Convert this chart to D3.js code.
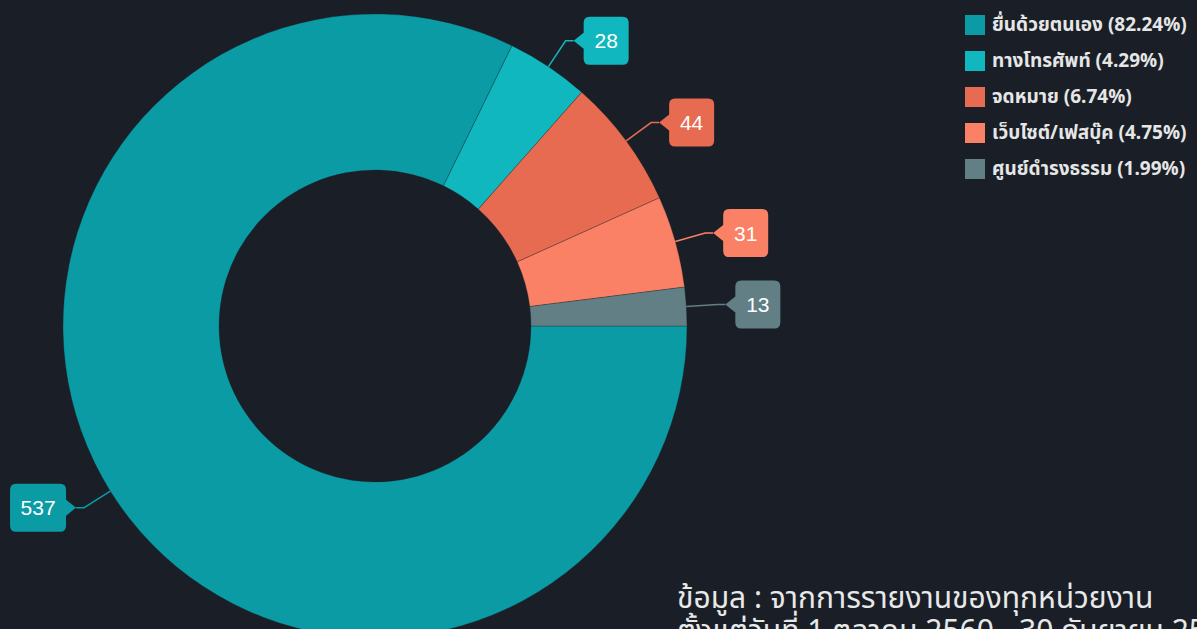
<!DOCTYPE html>
<html><head><meta charset="utf-8">
<script src="https://cdn.jsdelivr.net/npm/d3@7"></script>
<style>
html,body{margin:0;padding:0;background:#1a1f27;overflow:hidden;}
svg{display:block;}
</style></head>
<body>
<svg id="chart" width="1197" height="629"></svg>
<script>
const categories = ["ยื่นด้วยตนเอง", "ทางโทรศัพท์", "จดหมาย", "เว็บไซต์/เฟสบุ๊ค", "ศูนย์ดำรงธรรม"];
const values = [537, 28, 44, 31, 13];
const colors = ["#0a9ba5", "#10b7bf", "#e76b50", "#fa8166", "#617f84"];
const noteLines = ["ข้อมูล : จากการรายงานของทุกหน่วยงาน", "ตั้งแต่วันที่ 1 ตุลาคม 2560 - 30 กันยายน 2561"];

const svg = d3.select("#chart");
const cx = 375, cy = 326, R = 312, r0 = 156;
const font = "'Noto Sans Thai','Noto Sans','Liberation Sans',sans-serif";
const total = d3.sum(values);
const data = categories.map((c, i) => ({cat: c, value: values[i], color: colors[i]}));

const pie = d3.pie().value(d => d.value).sort(null)
  .startAngle(Math.PI / 2).endAngle(Math.PI / 2 + 2 * Math.PI);
const arcs = pie(data);
const arc = d3.arc().innerRadius(r0).outerRadius(R);

const g = svg.append("g").attr("transform", `translate(${cx},${cy})`);
g.selectAll("path.slice").data(arcs).join("path")
  .attr("class", "slice")
  .attr("d", arc)
  .attr("fill", d => d.data.color)
  .attr("stroke", "#1a1f27").attr("stroke-width", 0.3);

// callout labels
const bh = 48, pw = 10, rr = 6;
arcs.forEach(a => {
  const mid = (a.startAngle + a.endAngle) / 2;
  const p0 = [R * Math.sin(mid), -R * Math.cos(mid)];
  const p1 = [(R + 31) * Math.sin(mid), -(R + 31) * Math.cos(mid)];
  const right = Math.sin(mid) >= 0;
  const dir = right ? 1 : -1;
  const bw = 23 + 11 * String(a.data.value).length;
  const tip = [p1[0] + dir * 8, p1[1]];
  g.append("path")
    .attr("d", d3.line()([p0, p1, tip]))
    .attr("fill", "none").attr("stroke", a.data.color).attr("stroke-width", 1.5);
  const x0 = tip[0] + dir * pw;
  const x1 = x0 + dir * bw;
  const top = tip[1] - bh / 2, bot = tip[1] + bh / 2;
  const path = d3.path();
  path.moveTo(tip[0], tip[1]);
  path.lineTo(x0, tip[1] - 8);
  path.lineTo(x0, top + rr);
  path.quadraticCurveTo(x0, top, x0 + dir * rr, top);
  path.lineTo(x1 - dir * rr, top);
  path.quadraticCurveTo(x1, top, x1, top + rr);
  path.lineTo(x1, bot - rr);
  path.quadraticCurveTo(x1, bot, x1 - dir * rr, bot);
  path.lineTo(x0 + dir * rr, bot);
  path.quadraticCurveTo(x0, bot, x0, bot - rr);
  path.lineTo(x0, tip[1] + 8);
  path.closePath();
  g.append("path").attr("d", path.toString()).attr("fill", a.data.color);
  g.append("text")
    .attr("x", (x0 + x1) / 2).attr("y", tip[1])
    .attr("text-anchor", "middle").attr("dominant-baseline", "central")
    .attr("fill", "#ffffff").attr("font-family", "'Liberation Sans',Arial,sans-serif").attr("font-size", 21)
    .text(a.data.value);
});

// legend
const lg = svg.append("g").attr("transform", "translate(965,25)");
data.forEach((d, i) => {
  const row = lg.append("g").attr("transform", `translate(0,${i * 36})`);
  row.append("rect").attr("x", 0).attr("y", -10).attr("width", 20).attr("height", 20)
    .attr("fill", d.color);
  row.append("text").attr("x", 27).attr("y", 0).attr("dominant-baseline", "central")
    .attr("fill", "#e6e6e6").attr("font-family", font).attr("font-size", 19)
    .attr("font-weight", "bold")
    .text(`${d.cat} (${(d.value / total * 100).toFixed(2)}%)`);
});

// note
const note = svg.append("text").attr("x", 677).attr("y", 608)
  .attr("fill", "#e8e8e8").attr("font-family", font).attr("font-size", 30);
noteLines.forEach((t, i) => {
  note.append("tspan").attr("x", 677).attr("dy", i === 0 ? 0 : 33).text(t);
});
</script>
</body></html>
